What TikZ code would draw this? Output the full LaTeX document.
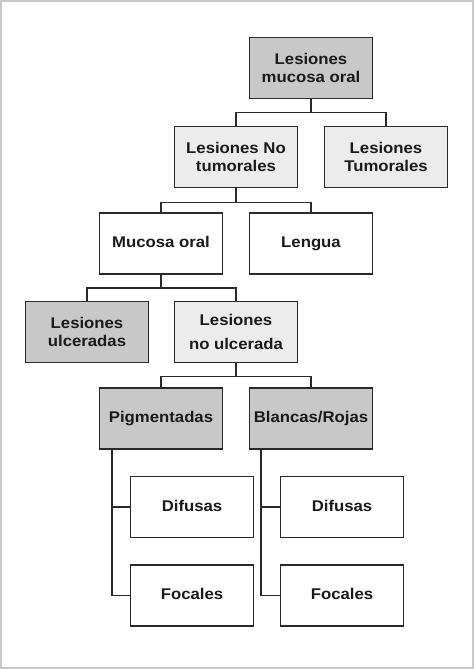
\documentclass[tikz,border=0pt]{standalone}
\usepackage{fontspec}
\setmainfont{Liberation Sans}[FakeStretch=1.08]
\usetikzlibrary{positioning}
\definecolor{darkfill}{HTML}{C8C8C8}
\definecolor{lightfill}{HTML}{ECECEC}
\definecolor{lineclr}{HTML}{2A2A2A}
\definecolor{frameclr}{HTML}{C8C8C8}
\definecolor{txt}{HTML}{1A1A1A}
\begin{document}
\begin{tikzpicture}[x=1pt,y=-1pt,
  box/.style={draw=lineclr,line width=1.8pt,rectangle,minimum width=123pt,minimum height=61pt,
    align=center,inner sep=0pt,font=\fontsize{15.5}{17.5}\selectfont\bfseries,text=txt},
  dark/.style={box,fill=darkfill},
  light/.style={box,fill=lightfill},
  white/.style={box,fill=white},
  one/.style={text height=11.5pt,text depth=3.5pt},
  conn/.style={draw=lineclr,line width=1.8pt}]
\useasboundingbox (0,0) rectangle (474,669);
\draw[frameclr,line width=2pt] (1,1) rectangle (473,668);

\node[dark]  (top)    at (311,68)    {Lesiones\\mucosa oral};
\node[light] (notum)  at (236,157)   {Lesiones No\\tumorales};
\node[light] (tum)    at (386,157)   {Lesiones\\Tumorales};
\node[white,one] (mucosa) at (161,243.5) {Mucosa oral};
\node[white,one] (lengua) at (311,243.5) {Lengua};
\node[dark]  (ulc)    at (87,332)    {Lesiones\\ulceradas};
\node[light] (noulc)  at (236,332)   {Lesiones\\[6pt]no ulcerada};
\node[dark,one]  (pig)    at (161,418.5) {Pigmentadas};
\node[dark,one]  (bla)    at (311,418.5) {Blancas/Rojas};
\node[white,one] (difA)   at (192,507)   {Difusas};
\node[white,one] (focA)   at (192,595.5) {Focales};
\node[white,one] (difB)   at (342,507)   {Difusas};
\node[white,one] (focB)   at (342,595.5) {Focales};

\draw[conn] (top.south) -- ++(0,13) -| (notum.north);
\draw[conn] (top.south) -- ++(0,13) -| (tum.north);
\draw[conn] (notum.south) -- ++(0,14) -| (mucosa.north);
\draw[conn] (notum.south) -- ++(0,14) -| (lengua.north);
\draw[conn] (mucosa.south) -- ++(0,13) -| (ulc.north);
\draw[conn] (mucosa.south) -- ++(0,13) -| (noulc.north);
\draw[conn] (noulc.south) -- ++(0,13) -| (pig.north);
\draw[conn] (noulc.south) -- ++(0,13) -| (bla.north);

\coordinate (pA) at ([xshift=13pt]pig.south west);
\coordinate (pB) at ([xshift=12pt]bla.south west);
\draw[conn] (pA) |- (difA.west);
\draw[conn] (pA) |- (focA.west);
\draw[conn] (pB) |- (difB.west);
\draw[conn] (pB) |- (focB.west);
\end{tikzpicture}
\end{document}
